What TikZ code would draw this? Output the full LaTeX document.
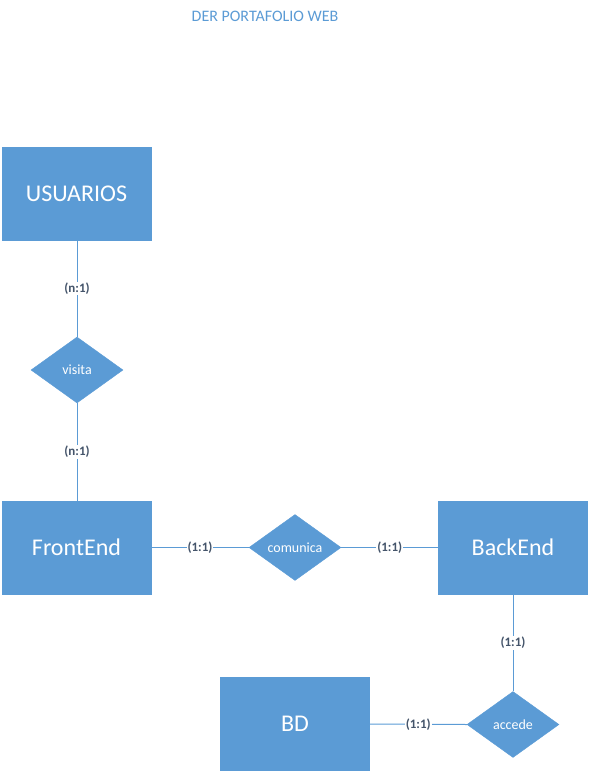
\documentclass[tikz,border=0pt]{standalone}
\usepackage{fontspec}
\setmainfont{Carlito}
\usetikzlibrary{shapes.geometric}
\definecolor{erblue}{HTML}{5B9BD5}
\definecolor{lbl}{HTML}{44546A}
\tikzset{
  entity/.style={rectangle, fill=erblue, draw=erblue, minimum width=149pt, minimum height=93pt, text=white, font=\fontsize{24}{28}\selectfont, inner sep=0pt},
  rel/.style={diamond, fill=erblue, draw=erblue, minimum width=92pt, minimum height=66pt, text=white, font=\fontsize{14}{16}\selectfont, inner sep=0pt, aspect=1.4},
  card/.style={fill=white, text=lbl, font=\bfseries\fontsize{13}{15}\selectfont, inner sep=1pt},
  conn/.style={draw=erblue, line width=1pt}
}
\begin{document}
\begin{tikzpicture}[x=1pt,y=-1pt]
\useasboundingbox (0,0) rectangle (590,773);
\node[text=erblue, font=\fontsize{16}{18}\selectfont] (title) at (265,16) {DER PORTAFOLIO WEB};
\node[entity] (usu) at (76.5,193.5) {USUARIOS};
\node[entity] (front) at (76.5,547.5) {FrontEnd};
\node[entity] (back) at (513,547.5) {BackEnd};
\node[entity] (bd) at (295,724) {BD};
\node[rel] (visita) at (77,370) {visita};
\node[rel] (comunica) at (295,547.5) {comunica};
\node[rel] (accede) at (513,724.5) {accede};
\draw[conn] (usu.south -| visita.north) -- node[card] {(n:1)} (visita.north);
\draw[conn] (visita.south) -- node[card] {(n:1)} (visita.south |- front.north);
\draw[conn] (front.east) -- node[card] {(1:1)} (comunica.west);
\draw[conn] (comunica.east) -- node[card] {(1:1)} (back.west);
\draw[conn] (back.south -| accede.north) -- node[card] {(1:1)} (accede.north);
\draw[conn] (bd.east) -- node[card] {(1:1)} (accede.west);
\end{tikzpicture}
\end{document}
